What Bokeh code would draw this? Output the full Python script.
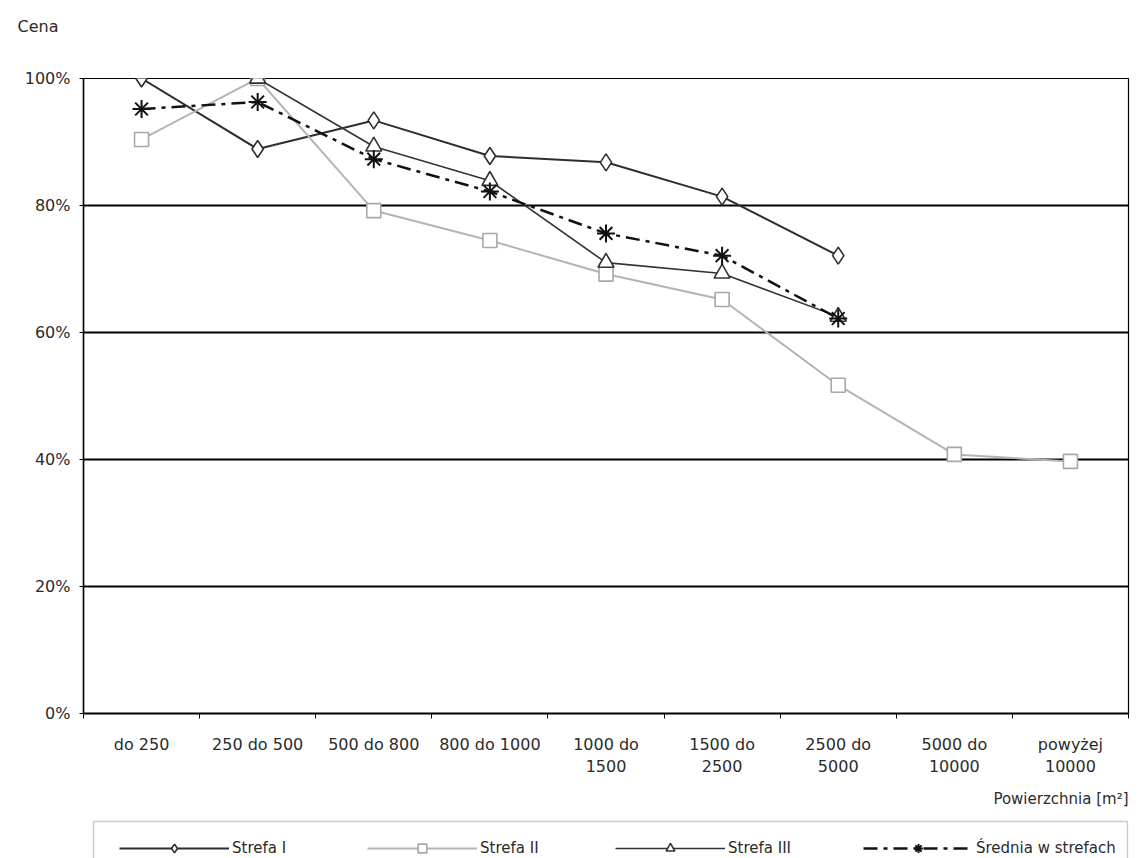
from bokeh.plotting import figure
from bokeh.models import (Range1d, FixedTicker, NumeralTickFormatter, Legend, LegendItem, Title, Label, BoxAnnotation)
from bokeh.layouts import column
from bokeh.embed import file_html
from bokeh.resources import INLINE

categories = ["do 250", "250 do 500", "500 do 800", "800 do 1000", "1000 do\n1500",
              "1500 do\n2500", "2500 do\n5000", "5000 do\n10000", "powyżej\n10000"]
strefa_1 = [1.000, 0.889, 0.934, 0.878, 0.868, 0.814, 0.721]
strefa_2 = [0.904, 1.000, 0.792, 0.745, 0.692, 0.652, 0.517, 0.408, 0.397]
strefa_3 = [1.000, 0.893, 0.839, 0.710, 0.693, 0.625]   # from "250 do 500"
srednia = [0.952, 0.963, 0.873, 0.822, 0.756, 0.721, 0.622]
y_ticks = [0, 0.2, 0.4, 0.6, 0.8, 1.0]
series_names = ["Strefa I", "Strefa II", "Strefa III", "Średnia w strefach"]

pos = [i + 1 for i in range(len(categories))]
x1 = pos[:len(strefa_1)]
x2 = pos[:len(strefa_2)]
x3 = pos[1:1 + len(strefa_3)]
xa = pos[:len(srednia)]

FONT = "DejaVu Sans"
TXT = "#2b2b2b"
W = 1140
LEFT = 83
RIGHT = 12

STYLES = [
    dict(line=dict(line_color="#2e2e2e", line_width=2),
         mark=dict(marker="diamond", size=17, line_color="#2e2e2e", fill_color="white", line_width=1.6)),
    dict(line=dict(line_color="#b4b4b4", line_width=2),
         mark=dict(marker="square", size=14, line_color="#a8a8a8", fill_color="white", line_width=1.6)),
    dict(line=dict(line_color="#333333", line_width=1.6),
         mark=dict(marker="triangle", size=16, line_color="#333333", fill_color="white", line_width=1.6)),
    dict(line=dict(line_color="#111111", line_width=2.5, line_dash="14 6 4 6"),
         mark=dict(marker="asterisk", size=18, line_color="#111111", line_width=2)),
]
DATA = [(x1, strefa_1), (x2, strefa_2), (x3, strefa_3), (xa, srednia)]

# ---- main chart
p = figure(width=W, height=782, output_backend="svg", toolbar_location=None,
           x_range=Range1d(0.5, len(categories) + 0.5), y_range=Range1d(0, 1.0),
           min_border_left=LEFT, min_border_right=RIGHT, min_border_top=78, min_border_bottom=69)
p.background_fill_color = "white"
p.border_fill_color = "white"
p.outline_line_color = "black"
p.outline_line_width = 1.2

# spacer title (nearest the frame) + the y-axis title "Cena" stacked above it
p.add_layout(Title(text=" ", align="left", standoff=22, text_font=FONT,
                   text_font_size="16px", text_color="white"), "above")
p.add_layout(Title(text="Cena", align="left", offset=-66, standoff=0,
                   text_font=FONT, text_font_size="16px", text_font_style="normal",
                   text_color=TXT), "above")

p.xaxis.ticker = FixedTicker(ticks=pos, minor_ticks=[i + 0.5 for i in range(len(categories) + 1)])
p.xaxis.major_label_overrides = {pp: c for pp, c in zip(pos, categories)}
p.xaxis.major_tick_out = 0
p.xaxis.major_tick_in = 0
p.xaxis.minor_tick_out = 5
p.xaxis.minor_tick_in = 0
p.xaxis.minor_tick_line_color = "black"
p.xaxis.axis_line_color = "black"
p.xaxis.axis_line_width = 2
p.xaxis.major_label_standoff = 16
p.xaxis.major_label_text_font = FONT
p.xaxis.major_label_text_font_size = "16px"
p.xaxis.major_label_text_color = TXT

p.yaxis.ticker = FixedTicker(ticks=y_ticks)
p.yaxis.formatter = NumeralTickFormatter(format="0%")
p.yaxis.major_tick_out = 4
p.yaxis.major_tick_in = 0
p.yaxis.minor_tick_out = 0
p.yaxis.minor_tick_in = 0
p.yaxis.major_tick_line_color = "black"
p.yaxis.axis_line_color = "black"
p.yaxis.axis_line_width = 1.5
p.yaxis.major_label_standoff = 9
p.yaxis.major_label_text_font = FONT
p.yaxis.major_label_text_font_size = "16px"
p.yaxis.major_label_text_color = TXT

p.xgrid.grid_line_color = None
p.ygrid.grid_line_color = "black"
p.ygrid.grid_line_width = 2

for (xs, ys), st in zip(DATA, STYLES):
    p.line(xs, ys, **st["line"])
    p.scatter(xs, ys, **st["mark"])

# ---- bottom strip: x-axis title + legend (frame aligned with the chart's frame)
QH = 76
q = figure(width=W, height=QH, output_backend="svg", toolbar_location=None,
           x_range=Range1d(1000, 2000), y_range=Range1d(1000, 1000 + QH),
           x_axis_location=None, y_axis_location=None,
           min_border_left=LEFT, min_border_right=RIGHT, min_border_top=0, min_border_bottom=0)
q.outline_line_color = None
q.background_fill_color = "white"
q.border_fill_color = "white"
q.grid.visible = False
q.add_layout(Label(x=W - LEFT - RIGHT, y=60, x_units="screen", y_units="screen",
                   text="Powierzchnia [m²]", text_font=FONT, text_font_size="15px",
                   text_color=TXT, text_baseline="middle", text_align="right"))
q.add_layout(BoxAnnotation(left=93 - LEFT, right=1127 - LEFT, bottom=-10, top=37,
                           left_units="screen", right_units="screen",
                           bottom_units="screen", top_units="screen",
                           fill_color=None, fill_alpha=0, line_color="#555555", line_width=1.5))
items = []
for name, (xs, ys), st in zip(series_names, DATA, STYLES):
    lr = q.line(xs, ys, **st["line"])
    mr = q.scatter(xs, ys, **st["mark"])
    items.append(LegendItem(label=name, renderers=[lr, mr]))
legend = Legend(items=items, orientation="horizontal", location=(119 - LEFT, -1))
legend.glyph_width = 110
legend.glyph_height = 22
legend.label_standoff = 3
legend.label_width = 131
legend.spacing = 4
legend.padding = 8
legend.margin = 0
legend.border_line_color = None
legend.background_fill_alpha = 0
legend.label_text_font = FONT
legend.label_text_font_size = "15px"
legend.label_text_color = TXT
q.add_layout(legend, "center")

layout = column(p, q, spacing=0)
open("out.html", "w").write(file_html(layout, INLINE))
